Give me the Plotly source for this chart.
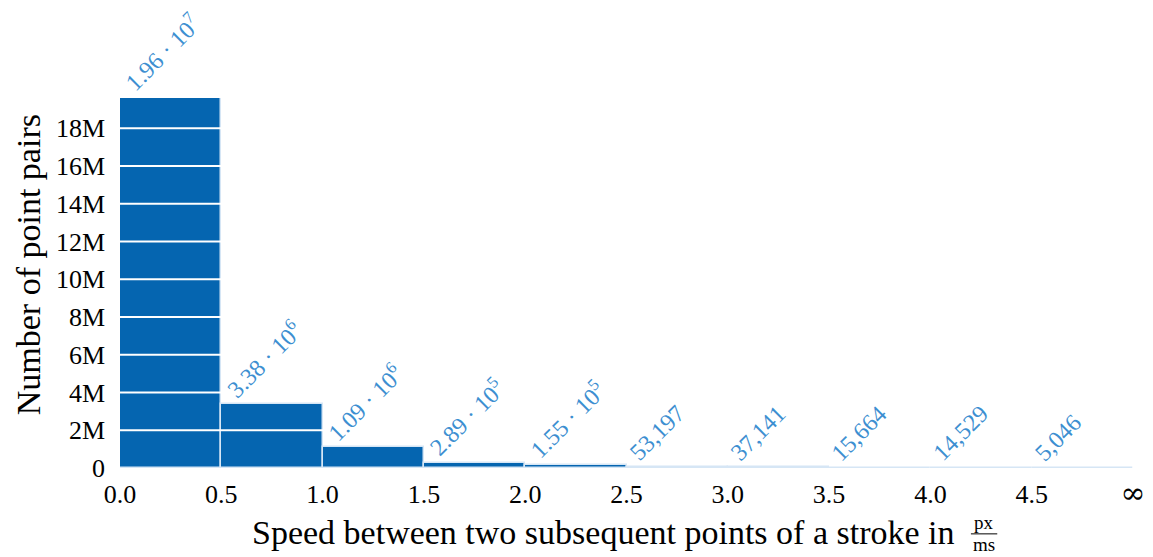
import plotly.graph_objects as go

bin_edges = [0.0, 0.5, 1.0, 1.5, 2.0, 2.5, 3.0, 3.5, 4.0, 4.5, 5.0]
counts = [1.96e7, 3.38e6, 1.09e6, 2.89e5, 1.55e5, 53197, 37141, 15664, 14529, 5046]
x_tick_vals = [0.0, 0.5, 1.0, 1.5, 2.0, 2.5, 3.0, 3.5, 4.0, 4.5, 5.0]
x_tick_text = ["0.0", "0.5", "1.0", "1.5", "2.0", "2.5", "3.0", "3.5", "4.0", "4.5",
               "<span style='font-family:DejaVu Serif;font-size:30px'>∞</span>"]
y_tick_vals = [0, 2e6, 4e6, 6e6, 8e6, 10e6, 12e6, 14e6, 16e6, 18e6]
y_tick_text = ["0", "2M", "4M", "6M", "8M", "10M", "12M", "14M", "16M", "18M"]

FONT = "Liberation Serif"
BAR = "#0565b0"
LABEL = "#3d8fd1"


def fmt(v):
    if v >= 1e5:
        exp = len(str(int(v))) - 1
        mant = v / 10 ** exp
        return f"{mant:.2f} · 10<sup>{exp}</sup>"
    return f"{int(round(v)):,}"


lefts = bin_edges[:-1]
centers = [(a + b) / 2 for a, b in zip(bin_edges[:-1], bin_edges[1:])]
widths = [b - a for a, b in zip(bin_edges[:-1], bin_edges[1:])]

fig = go.Figure()
fig.add_trace(go.Bar(
    x=centers, y=counts, width=widths,
    marker=dict(color=BAR, line=dict(color="#d6e6f5", width=1.5)),
    hoverinfo="skip",
))

for xl, c in zip(lefts, counts):
    fig.add_annotation(
        x=xl, y=c, xref="x", yref="y", text=fmt(c), showarrow=False,
        textangle=-45, xanchor="left", yanchor="bottom", xshift=-5, yshift=-1,
        font=dict(family=FONT, size=24, color=LABEL),
    )

for yv in y_tick_vals[1:]:
    fig.add_shape(type="line", xref="x", yref="y", x0=bin_edges[0], x1=bin_edges[-1],
                  y0=yv, y1=yv, line=dict(color="white", width=2), layer="above")

# axis titles
fig.add_annotation(x=0.826, y=-0.175, xref="paper", yref="paper", showarrow=False,
                   xanchor="right", yanchor="middle",
                   text="Speed between two subsequent points of a stroke in",
                   font=dict(family=FONT, size=34, color="black"))
fig.add_annotation(x=0.853, y=-0.146, xref="paper", yref="paper", showarrow=False,
                   xanchor="center", yanchor="middle", text="px",
                   font=dict(family=FONT, size=19, color="black"))
fig.add_annotation(x=0.853, y=-0.208, xref="paper", yref="paper", showarrow=False,
                   xanchor="center", yanchor="middle", text="ms",
                   font=dict(family=FONT, size=19, color="black"))
fig.add_shape(type="line", xref="paper", yref="paper", x0=0.840, x1=0.866,
              y0=-0.178, y1=-0.178, line=dict(color="black", width=1))
fig.add_annotation(x=-0.0908, y=0.548, xref="paper", yref="paper", showarrow=False,
                   xanchor="center", yanchor="middle", textangle=-90,
                   text="Number of point pairs",
                   font=dict(family=FONT, size=34, color="black"))

fig.update_layout(
    width=1145, height=549,
    margin=dict(l=112, r=20, t=90, b=89),
    paper_bgcolor="white", plot_bgcolor="white",
    showlegend=False, bargap=0,
    font=dict(family=FONT, size=26, color="black"),
    xaxis=dict(range=[0, 5], tickvals=x_tick_vals, ticktext=x_tick_text,
               showgrid=False, zeroline=False, showline=False, ticks="",
               automargin=False,
               ticklabelstandoff=8, tickfont=dict(family=FONT, size=26)),
    yaxis=dict(range=[0, 19.6e6], tickvals=y_tick_vals, ticktext=y_tick_text,
               showgrid=False, zeroline=False, showline=False, ticks="",
               automargin=False,
               ticklabelstandoff=14, tickfont=dict(family=FONT, size=26)),
)

fig.write_html("out.html")
